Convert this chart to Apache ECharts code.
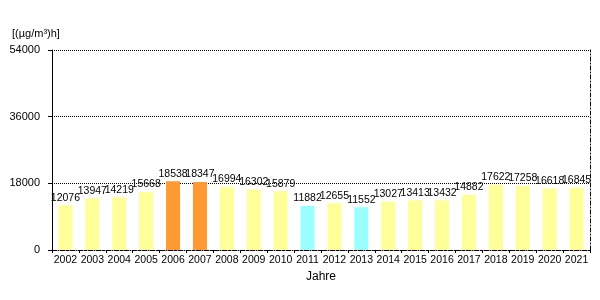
<!DOCTYPE html>
<html><head><meta charset="utf-8">
<script src="https://cdn.jsdelivr.net/npm/echarts@6/dist/echarts.min.js"></script>
<style>html,body{margin:0;padding:0;background:#fff}#c{width:600px;height:300px}</style>
</head><body><div id="c"></div>
<script>
const years = ['2002','2003','2004','2005','2006','2007','2008','2009','2010','2011','2012','2013','2014','2015','2016','2017','2018','2019','2020','2021'];
const values = [12076,13947,14219,15668,18538,18347,16994,16302,15879,11882,12655,11552,13027,13413,13432,14882,17622,17258,16618,16845];
const barKinds = ['n','n','n','n','h','h','n','n','n','l','n','l','n','n','n','n','n','n','n','n'];
const yTicks = [0,18000,36000,54000];
const kindColors = {n:'#FFFF99', h:'#FF9933', l:'#99FFFF'};

const chart = echarts.init(document.getElementById('c'), null, {renderer:'canvas'});
const font = 'Liberation Sans, Arial, sans-serif';
chart.setOption({
  animation:false,
  textStyle:{fontFamily:font},
  title:{text:'[(µg/m³)h]', left:7, top:23, textStyle:{fontSize:11, fontWeight:'normal', color:'#000', fontFamily:font}},
  grid:{left:52, right:10, top:50, bottom:50, containLabel:false},
  xAxis:{type:'category', data:years, boundaryGap:true,
    name:'Jahre', nameLocation:'middle', nameGap:17,
    nameTextStyle:{fontSize:12, color:'#000', fontFamily:font},
    axisLine:{lineStyle:{color:'#000', width:1, type:[4,2,1,2]}},
    axisTick:{show:true, length:3, lineStyle:{color:'#000'}},
    axisLabel:{color:'#000', fontSize:10.5, margin:5, interval:0, fontFamily:font}},
  yAxis:[{type:'value', min:yTicks[0], max:yTicks[yTicks.length-1], interval:18000,
    axisLine:{show:true, lineStyle:{color:'#000', width:1}},
    axisTick:{show:true, length:4, lineStyle:{color:'#000'}},
    axisLabel:{color:'#000', fontSize:11, margin:12, fontFamily:font, formatter:v=>String(v)},
    splitLine:{show:true, lineStyle:{color:'#000', type:[1,1], width:1}}},
   {type:'value', min:0, max:54000, interval:18000, position:'right',
    axisLine:{show:true, lineStyle:{color:'#000', width:1, type:[4,2,1,2]}},
    axisTick:{show:false}, axisLabel:{show:false}, splitLine:{show:false}}],
  series:[{type:'bar', barWidth:14,
    data: values.map((v,i)=>({value:v, itemStyle:{color:kindColors[barKinds[i]]}})),
    label:{show:true, position:'top', distance:2, color:'#000', fontSize:10.5, fontFamily:font}}]
});
</script></body></html>
